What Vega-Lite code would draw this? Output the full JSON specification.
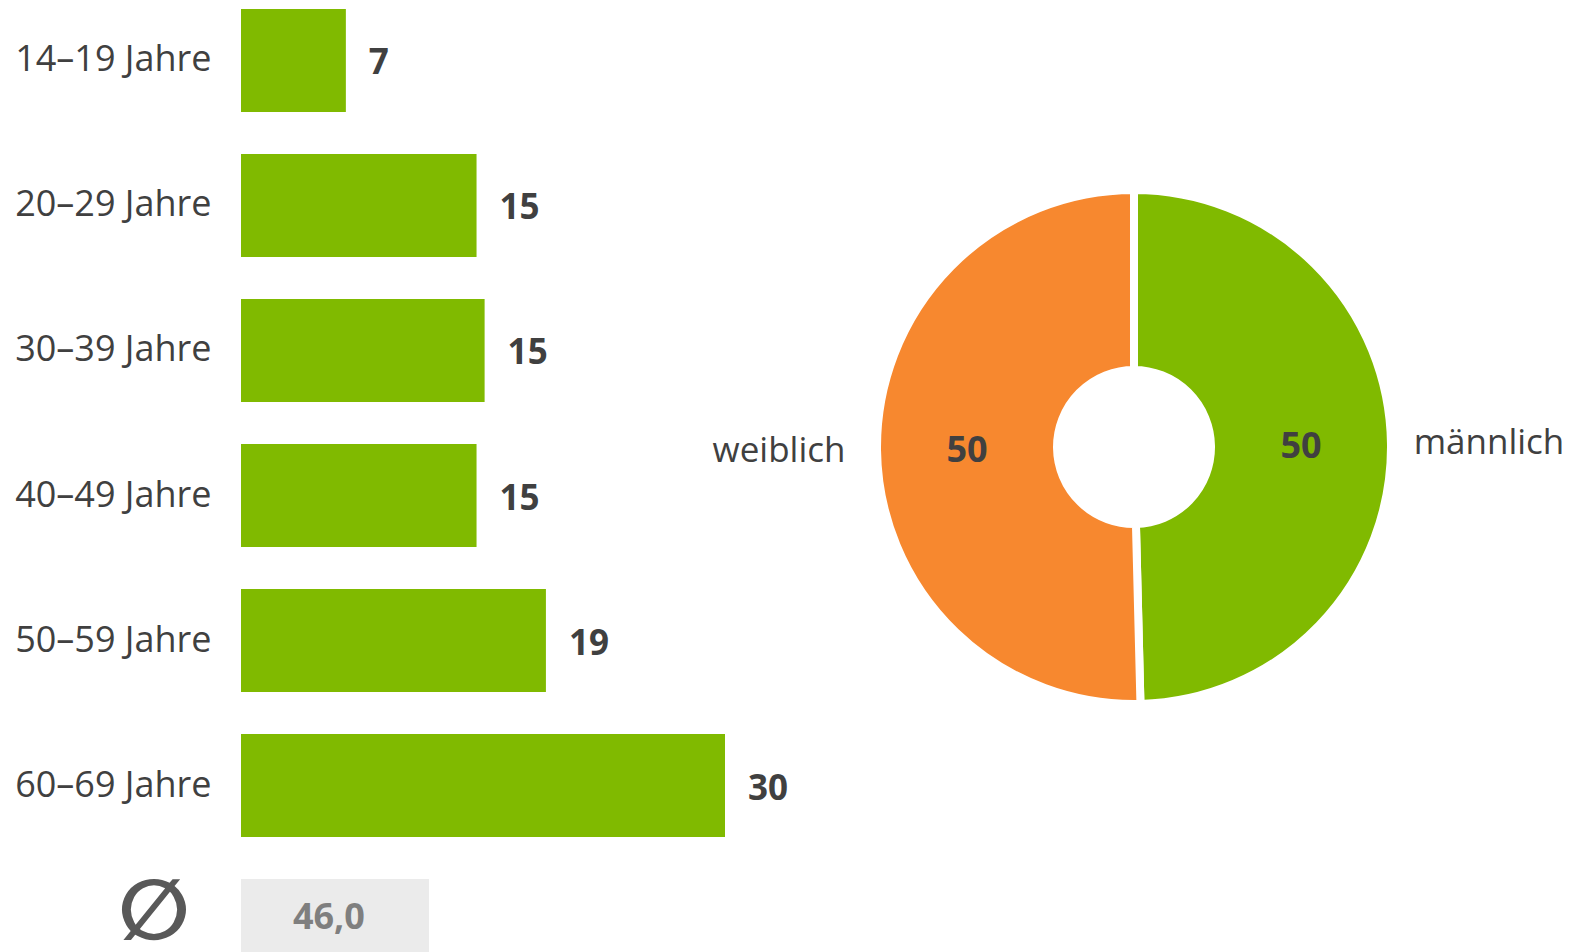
{
  "$schema": "https://vega.github.io/schema/vega-lite/v6.json",
  "padding": {"left": 14, "top": 0, "right": 4, "bottom": 0},
  "background": "white",
  "config": {"view": {"stroke": null}, "font": "Open Sans"},
  "datasets": {
    "ages": [
      {"group": "14–19 Jahre", "value": 6.5},
      {"group": "20–29 Jahre", "value": 14.6},
      {"group": "30–39 Jahre", "value": 15.1},
      {"group": "40–49 Jahre", "value": 14.6},
      {"group": "50–59 Jahre", "value": 18.9},
      {"group": "60–69 Jahre", "value": 30}
    ],
    "avg": [{"group": "∅", "avg": "46,0"}],
    "gender": [
      {"gender": "männlich", "share": 49.6, "rank": 1},
      {"gender": "weiblich", "share": 50.4, "rank": 2}
    ]
  },
  "spacing": 0,
  "bounds": "flush",
  "hconcat": [
    {
      "width": 484,
      "height": 952,
      "encoding": {
        "y": {
          "field": "group",
          "type": "nominal",
          "scale": {
            "domain": ["14–19 Jahre", "20–29 Jahre", "30–39 Jahre", "40–49 Jahre", "50–59 Jahre", "60–69 Jahre", "∅"],
            "range": [0, 991],
            "paddingInner": 0.29,
            "paddingOuter": 0.062
          },
          "axis": {
            "values": ["14–19 Jahre", "20–29 Jahre", "30–39 Jahre", "40–49 Jahre", "50–59 Jahre", "60–69 Jahre"],
            "domain": false,
            "ticks": false,
            "tickSize": 0,
            "title": null,
            "labelFont": "Open Sans",
            "labelFontSize": 36,
            "labelColor": "#404040",
            "labelPadding": 30,
            "labelLimit": 400
          }
        }
      },
      "layer": [
        {
          "data": {"name": "ages"},
          "mark": {"type": "bar", "color": "#80BA00"},
          "encoding": {
            "x": {"field": "value", "type": "quantitative", "scale": {"domain": [0, 30], "nice": false}, "axis": null}
          }
        },
        {
          "data": {"name": "ages"},
          "mark": {"type": "text", "align": "left", "baseline": "middle", "dx": 23, "dy": 3, "fontSize": 35, "fontWeight": "bold", "color": "#404040"},
          "encoding": {
            "x": {"field": "value", "type": "quantitative"},
            "text": {"field": "value", "type": "quantitative", "format": ".0f"}
          }
        },
        {
          "data": {"name": "avg"},
          "mark": {"type": "bar", "color": "#EBEBEB", "clip": true},
          "encoding": {
            "x": {"datum": 0},
            "x2": {"datum": 11.65}
          }
        },
        {
          "data": {"name": "avg"},
          "mark": {"type": "text", "baseline": "middle", "yOffset": -13, "fontSize": 36, "fontWeight": "bold", "color": "#7F7F7F"},
          "encoding": {
            "x": {"datum": 5.45},
            "text": {"field": "avg"}
          }
        },
        {
          "data": {"name": "avg"},
          "mark": {"type": "text", "baseline": "middle", "yOffset": -17, "font": "DejaVu Sans", "fontSize": 84, "fontWeight": "bold", "color": "#595959"},
          "encoding": {
            "x": {"datum": -5.4},
            "text": {"field": "group"}
          }
        }
      ]
    },
    {
      "width": 818,
      "height": 894,
      "data": {"name": "gender"},
      "encoding": {
        "theta": {"field": "share", "type": "quantitative", "stack": true},
        "order": {"field": "rank", "type": "quantitative"},
        "detail": {"field": "gender", "type": "nominal"}
      },
      "layer": [
        {
          "mark": {"type": "arc", "innerRadius": 77, "outerRadius": 257, "stroke": "white", "strokeWidth": 8},
          "encoding": {
            "color": {
              "field": "gender",
              "type": "nominal",
              "scale": {"domain": ["männlich", "weiblich"], "range": ["#80BA00", "#F7882F"]},
              "legend": null
            }
          }
        },
        {
          "mark": {"type": "text", "radius": 167, "dy": 2, "fontSize": 36, "fontWeight": "bold", "color": "#404040"},
          "encoding": {"text": {"field": "share", "type": "quantitative", "format": ".0f"}}
        },
        {
          "mark": {"type": "text", "radius": 355, "fontSize": 35, "color": "#404040"},
          "encoding": {"text": {"field": "gender", "type": "nominal"}}
        }
      ]
    }
  ]
}
